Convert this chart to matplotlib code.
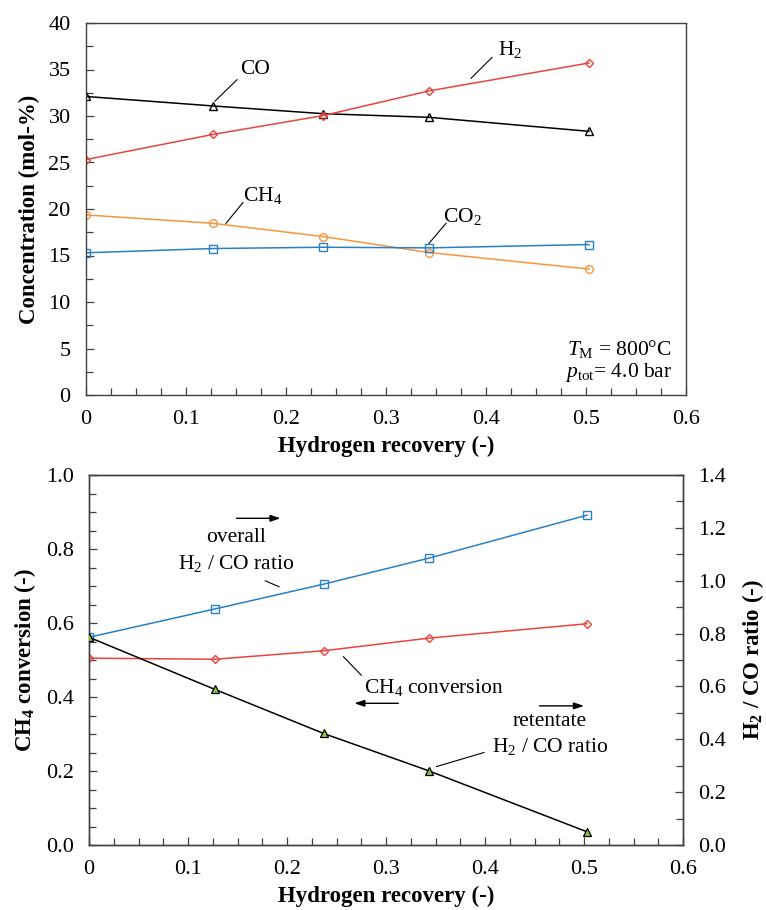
import matplotlib
matplotlib.use("Agg")
import matplotlib.pyplot as plt
from matplotlib.ticker import MultipleLocator, FuncFormatter

plt.rcParams['font.family'] = ['Liberation Serif', 'DejaVu Serif']
plt.rcParams['mathtext.fontset'] = 'custom'
plt.rcParams['mathtext.rm'] = 'Liberation Serif'
plt.rcParams['mathtext.it'] = 'Liberation Serif:italic'
plt.rcParams['mathtext.bf'] = 'Liberation Serif:bold'

# ---- data ----
recovery = [0.0, 0.127, 0.237, 0.343, 0.503]
co = [32.1, 31.08, 30.25, 29.86, 28.35]
h2 = [25.32, 28.02, 30.04, 32.7, 35.7]
ch4 = [19.36, 18.46, 17.04, 15.32, 13.54]
co2 = [15.29, 15.75, 15.89, 15.82, 16.18]

ch4_conversion = [0.505, 0.502, 0.525, 0.559, 0.598]
overall_ratio = [0.786, 0.893, 0.987, 1.085, 1.248]
retentate_ratio = [0.786, 0.589, 0.422, 0.281, 0.05]

x_ticks = [0, 0.1, 0.2, 0.3, 0.4, 0.5, 0.6]
x_ticklabels = ['0', '0.1', '0.2', '0.3', '0.4', '0.5', '0.6']

RED = '#e8453f'
ORANGE = '#f7953c'
BLUE = '#2a80c2'
GREEN = '#8cc63f'
SPINE = '#404040'
FS_TICK = 16
FS_LAB = 16.5
FS_ANN = 15.5

fig = plt.figure(figsize=(7.66, 9.10), dpi=100)

def style_ax(ax, right_ticks=False):
    for s in ax.spines.values():
        s.set_color(SPINE)
        s.set_linewidth(1.0)
    ax.tick_params(axis='both', which='both', direction='in', labelsize=FS_TICK,
                   top=False, right=right_ticks, color=SPINE)
    ax.tick_params(axis='x', which='both', pad=11)
    ax.tick_params(axis='y', which='both', pad=11)
    ax.tick_params(which='major', length=6, width=0.9)
    ax.tick_params(which='minor', length=5, width=0.9)

# ---------- top chart ----------
ax1 = fig.add_axes([86/766, 1-395/910, 600/766, 372/910])
style_ax(ax1)
ax1.plot(recovery, co, color='black', lw=1.1, marker='^', ms=5.5, mfc='none', mec='black', mew=1.0)
ax1.plot(recovery, h2, color=RED, lw=1.1, marker='D', ms=4.2, mfc='none', mec=RED, mew=1.0)
ax1.plot(recovery, ch4, color=ORANGE, lw=1.1, marker='o', ms=5.5, mfc='none', mec=ORANGE, mew=1.0)
ax1.plot(recovery, co2, color=BLUE, lw=1.1, marker='s', ms=5.8, mfc='none', mec=BLUE, mew=1.0)
ax1.set_xlim(0, 0.6)
ax1.set_ylim(0, 40)
ax1.set_xticks(x_ticks)
ax1.set_xticklabels(x_ticklabels)
ax1.xaxis.set_minor_locator(MultipleLocator(0.025))
ax1.yaxis.set_major_locator(MultipleLocator(5))
ax1.yaxis.set_minor_locator(MultipleLocator(2.5))
ax1.set_xlabel('Hydrogen recovery (-)', fontsize=FS_LAB, fontweight='bold', labelpad=5)
ax1.set_ylabel('Concentration (mol-%)', fontsize=FS_LAB, fontweight='bold', labelpad=6)

ax1.text(0.169, 35.05, 'CO', fontsize=FS_ANN, ha='center', va='center')
ax1.plot([0.129, 0.151], [31.6, 33.9], color='black', lw=0.8)
ax1.text(0.424, 37.1, 'H$_2$', fontsize=FS_ANN, ha='center', va='center')
ax1.plot([0.385, 0.406], [34.05, 36.3], color='black', lw=0.8)
ax1.text(0.177, 21.5, 'CH$_4$', fontsize=FS_ANN, ha='center', va='center')
ax1.plot([0.140, 0.157], [18.46, 20.7], color='black', lw=0.8)
ax1.text(0.376, 19.17, 'CO$_2$', fontsize=FS_ANN, ha='center', va='center')
ax1.plot([0.343, 0.36], [16.3, 18.46], color='black', lw=0.8)
ax1.text(0.586, 5.0, r'$T_{\mathrm{M}}$ = 800°C', fontsize=FS_ANN, ha='right', va='center')
ax1.text(0.586, 2.4, r'$p_{\mathrm{tot}}$= 4.0 bar', fontsize=FS_ANN, ha='right', va='center')

# ---------- bottom chart ----------
ax2 = fig.add_axes([89/766, 1-845/910, 594/766, 370/910])
ax3 = ax2.twinx()
style_ax(ax2)
style_ax(ax3, right_ticks=True)
ax3.tick_params(left=False)
ax2.tick_params(right=False)

ax2.plot(recovery, ch4_conversion, color=RED, lw=1.1, marker='D', ms=4.2, mfc='none', mec=RED, mew=1.0, zorder=3)
ax3.plot(recovery, overall_ratio, color=BLUE, lw=1.1, marker='s', ms=5.8, mfc='none', mec=BLUE, mew=1.0, zorder=3)
ax3.plot(recovery, retentate_ratio, color='black', lw=1.1, marker='^', ms=5.5, mfc=GREEN, mec='black', mew=0.9, zorder=4)

ax2.set_xlim(0, 0.6)
ax2.set_ylim(0, 1.0)
ax3.set_ylim(0, 1.4)
ax2.set_xticks(x_ticks)
ax2.set_xticklabels(x_ticklabels)
ax2.xaxis.set_minor_locator(MultipleLocator(0.025))
ax2.yaxis.set_major_locator(MultipleLocator(0.2))
ax2.yaxis.set_minor_locator(MultipleLocator(0.05))
ax3.yaxis.set_major_locator(MultipleLocator(0.2))
ax3.yaxis.set_minor_locator(MultipleLocator(0.1))
fmt1 = FuncFormatter(lambda v, p: f'{v:.1f}')
ax2.yaxis.set_major_formatter(fmt1)
ax3.yaxis.set_major_formatter(fmt1)
ax2.set_xlabel('Hydrogen recovery (-)', fontsize=FS_LAB, fontweight='bold', labelpad=5)
ax2.set_ylabel(r'$\mathbf{CH_4}$ conversion (-)', fontsize=FS_LAB, fontweight='bold', labelpad=6)
ax3.set_ylabel(r'$\mathbf{H_2}$ / CO ratio (-)', fontsize=FS_LAB, fontweight='bold', labelpad=10)

arrow = dict(arrowstyle='-|>,head_length=0.6,head_width=0.2', color='black', lw=1.0, shrinkA=0, shrinkB=0)

ax2.text(0.149, 0.832, 'overall', fontsize=FS_ANN, ha='center', va='center')
ax2.text(0.149, 0.761, 'H$_2$ / CO ratio', fontsize=FS_ANN, ha='center', va='center')
ax2.annotate('', xy=(0.1935, 0.883), xytext=(0.149, 0.883), arrowprops=arrow)
ax2.plot([0.178, 0.192], [0.714, 0.698], color='black', lw=0.8)

ax2.text(0.348, 0.426, 'CH$_4$ conversion', fontsize=FS_ANN, ha='center', va='center')
ax2.annotate('', xy=(0.268, 0.383), xytext=(0.3125, 0.383), arrowprops=arrow)
ax2.plot([0.257, 0.275], [0.509, 0.459], color='black', lw=0.8)

ax2.text(0.4657, 0.333, 'retentate', fontsize=FS_ANN, ha='center', va='center')
ax2.text(0.4657, 0.266, 'H$_2$ / CO ratio', fontsize=FS_ANN, ha='center', va='center')
ax2.annotate('', xy=(0.5, 0.376), xytext=(0.455, 0.376), arrowprops=arrow)
ax2.plot([0.351, 0.399], [0.212, 0.25], color='black', lw=0.8)

fig.savefig('out.png', dpi=100)
